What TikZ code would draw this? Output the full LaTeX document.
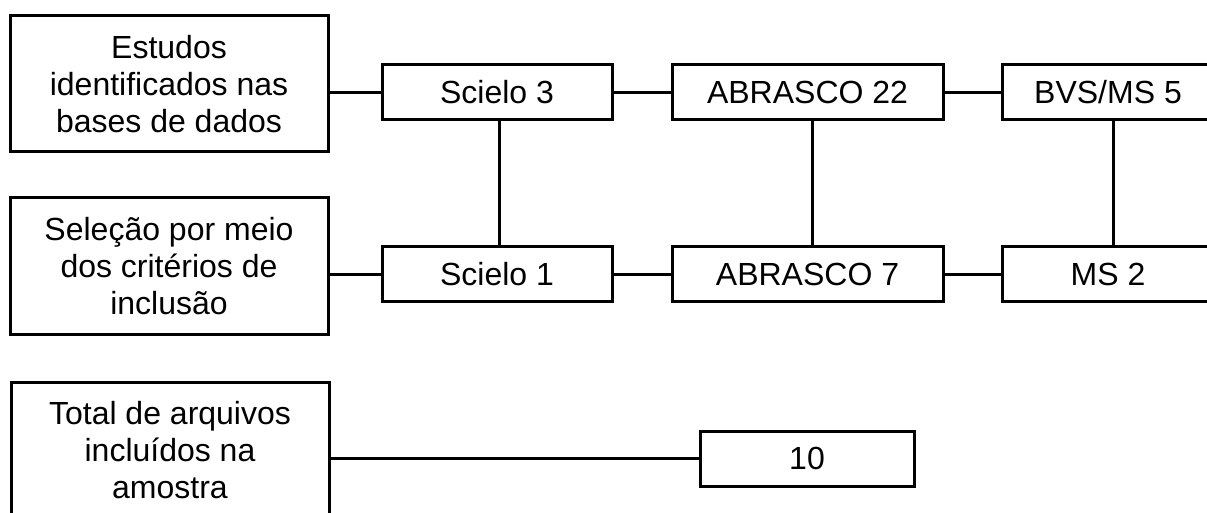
\documentclass[tikz,border=0pt]{standalone}
\usepackage{fontspec}
\setmainfont{Liberation Sans}
\begin{document}
\begin{tikzpicture}[x=1pt,y=-1pt,
  every node/.style={font=\fontsize{32}{36.8}\selectfont},
  bx/.style={draw=black, line width=3pt, inner sep=0pt, align=center, fill=white},
  lbox/.style={bx, minimum width=318pt, minimum height=136pt},
  sbox/.style={bx, minimum height=55pt},
  conn/.style={draw=black, line width=3pt}]
\useasboundingbox (0,0) rectangle (1207,513);
\clip (0,0) rectangle (1207,513);
% left column
\node[lbox] (b1) at (169,84) {Estudos\\identificados nas\\bases de dados};
\node[lbox] (b2) at (169,266) {Seleção por meio\\dos critérios de\\inclusão};
\node[lbox] (b3) at (170,450) {Total de arquivos\\incluídos na\\amostra};
% top row
\node[sbox, minimum width=230pt] (s3) at (497,92.5) {Scielo 3};
\node[sbox, minimum width=271pt] (a22) at (807.5,92.5) {ABRASCO 22};
\node[sbox, minimum width=212pt] (bvs) at (1108,92.5) {BVS/MS 5};
% bottom row
\node[sbox, minimum width=230pt] (s1) at (497,274) {Scielo 1};
\node[sbox, minimum width=271pt] (a7) at (807.5,274) {ABRASCO 7};
\node[sbox, minimum width=212pt] (ms2) at (1108,274) {MS 2};
% total
\node[sbox, minimum width=214pt] (t10) at (807,458.5) {10};
% vertical connector positions
\coordinate (v1) at (499,0);
\coordinate (v2) at (812,0);
\coordinate (v3) at (1113,0);
% horizontal connectors
\draw[conn] (b1.east |- s3.west) -- (s3.west);
\draw[conn] (s3.east) -- (a22.west);
\draw[conn] (a22.east) -- (bvs.west);
\draw[conn] (b2.east |- s1.west) -- (s1.west);
\draw[conn] (s1.east) -- (a7.west);
\draw[conn] (a7.east) -- (ms2.west);
\draw[conn] (b3.east |- t10.west) -- (t10.west);
% vertical connectors
\draw[conn] (s3.south -| v1) -- (s1.north -| v1);
\draw[conn] (a22.south -| v2) -- (a7.north -| v2);
\draw[conn] (bvs.south -| v3) -- (ms2.north -| v3);
\end{tikzpicture}
\end{document}
